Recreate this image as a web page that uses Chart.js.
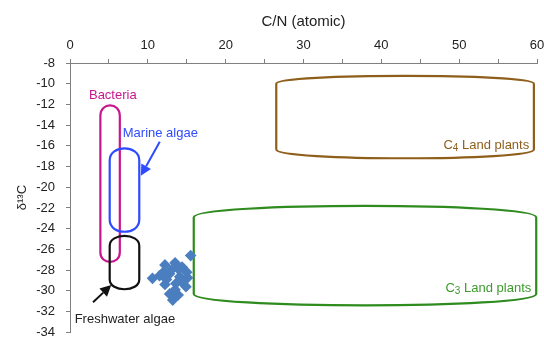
<!DOCTYPE html>
<html>
<head>
<meta charset="utf-8">
<script src="https://cdn.jsdelivr.net/npm/chart.js@4.4.1/dist/chart.umd.min.js"></script>
<style>
html,body{margin:0;padding:0;background:#fff;overflow:hidden}
#wrap{width:544px;height:338px;position:relative}
</style>
</head>
<body>
<div id="wrap"><canvas id="c" width="544" height="338"></canvas></div>
<script>
// ---- data ----
const regionNames = ['Bacteria', 'Marine algae', 'Freshwater algae', 'C4 Land plants', 'C3 Land plants'];
const regionCNMin = [3.9, 5.1, 5.1, 26.5, 15.9];
const regionCNMax = [6.4, 8.9, 8.9, 59.6, 59.9];
const regionD13CTopSide = [-13.1, -17.4, -25.65, -10.0, -22.9];
const regionD13CTopPeak = [-12.1, -16.25, -24.7, -9.25, -21.8];
const regionD13CBottomSide = [-26.3, -23.15, -28.9, -16.35, -30.3];
const regionD13CBottomPeak = [-27.2, -24.3, -29.85, -17.2, -31.4];

const sampleCN = [12.2, 13.5, 14.4, 11.5, 12.8, 14.1, 15.1, 12.2, 13.6, 14.9, 12.8, 13.9, 13.2, 10.6, 15.5, 13.0, 14.3, 12.4, 13.5, 15.0, 12.0, 13.9];
const sampleD13C = [-27.5, -27.3, -27.7, -28.55, -28.35, -28.65, -28.75, -29.4, -29.3, -29.6, -30.3, -30.4, -30.9, -28.8, -26.6, -28.0, -29.1, -28.9, -29.9, -28.2, -28.2, -27.9];

const xTickLabels = [0, 10, 20, 30, 40, 50, 60];
const yTickLabels = [-34, -32, -30, -28, -26, -24, -22, -20, -18, -16, -14, -12, -10, -8];

// ---- styles / annotation layout (kept separate from data) ----
const regionColors = ['#C8178E', '#2E4BFF', '#111111', '#8E5E1A', '#2E8B1E'];
const labelStyle = [
  {text: 'Bacteria', x: 5.5, y: -11.17, align: 'center', color: '#C8178E'},
  {text: 'Marine algae', x: 6.78, y: -14.81, align: 'left', color: '#2E4BFF'},
  {text: 'Freshwater algae', x: 0.6, y: -32.76, align: 'left', color: '#222222'},
];
const subLabels = [
  {main: 'C', sub: '4', rest: ' Land plants', x: 59.0, y: -15.97, color: '#8E5E1A'},
  {main: 'C', sub: '3', rest: ' Land plants', x: 59.26, y: -29.8, color: '#3C9A2C'},
];
const arrows = [
  {x0: 11.53, y0: -15.6, x1: 9.1, y1: -18.9, color: '#2E4BFF'},
  {x0: 2.96, y0: -31.1, x1: 5.3, y1: -29.45, color: '#111111'},
];
const FONT = '"Liberation Sans", Arial, sans-serif';

const regionPlugin = {
  id: 'regions',
  beforeDatasetsDraw(chart) {
    const {ctx, scales: {x, y}} = chart;
    ctx.save();
    ctx.lineJoin = 'round';
    for (let i = 0; i < regionNames.length; i++) {
      const L = x.getPixelForValue(regionCNMin[i]);
      const R = x.getPixelForValue(regionCNMax[i]);
      const yt = y.getPixelForValue(regionD13CTopSide[i]);
      const ytp = y.getPixelForValue(regionD13CTopPeak[i]);
      const yb = y.getPixelForValue(regionD13CBottomSide[i]);
      const ybp = y.getPixelForValue(regionD13CBottomPeak[i]);
      const kt = yt + (ytp - yt) / 0.75;
      const kb = yb + (ybp - yb) / 0.75;
      ctx.beginPath();
      ctx.moveTo(L, yb);
      ctx.lineTo(L, yt);
      ctx.bezierCurveTo(L, kt, R, kt, R, yt);
      ctx.lineTo(R, yb);
      ctx.bezierCurveTo(R, kb, L, kb, L, yb);
      ctx.closePath();
      ctx.strokeStyle = regionColors[i];
      ctx.lineWidth = 2.2;
      ctx.stroke();
    }
    // arrows
    for (const a of arrows) {
      const x0 = x.getPixelForValue(a.x0), y0 = y.getPixelForValue(a.y0);
      const x1 = x.getPixelForValue(a.x1), y1 = y.getPixelForValue(a.y1);
      const ang = Math.atan2(y1 - y0, x1 - x0);
      const hl = 11, hw = 5.5;
      const bx = x1 - Math.cos(ang) * hl, by = y1 - Math.sin(ang) * hl;
      ctx.strokeStyle = a.color; ctx.fillStyle = a.color; ctx.lineWidth = 2;
      ctx.beginPath(); ctx.moveTo(x0, y0); ctx.lineTo(bx, by); ctx.stroke();
      ctx.beginPath();
      ctx.moveTo(x1, y1);
      ctx.lineTo(bx + Math.sin(ang) * hw, by - Math.cos(ang) * hw);
      ctx.lineTo(bx - Math.sin(ang) * hw, by + Math.cos(ang) * hw);
      ctx.closePath(); ctx.fill();
    }
    // labels
    ctx.textBaseline = 'middle';
    ctx.font = '13px ' + FONT;
    for (const l of labelStyle) {
      ctx.fillStyle = l.color;
      ctx.textAlign = l.align;
      ctx.fillText(l.text, x.getPixelForValue(l.x), y.getPixelForValue(l.y));
    }
    for (const l of subLabels) {
      const px = x.getPixelForValue(l.x), py = y.getPixelForValue(l.y);
      ctx.font = '13px ' + FONT;
      const wMain = ctx.measureText(l.main).width;
      const wRest = ctx.measureText(l.rest).width;
      ctx.font = '10px ' + FONT;
      const wSub = ctx.measureText(l.sub).width;
      let sx = px - (wMain + wSub + wRest);
      ctx.fillStyle = l.color;
      ctx.textAlign = 'left';
      ctx.font = '13px ' + FONT;
      ctx.fillText(l.main, sx, py);
      ctx.font = '10px ' + FONT;
      ctx.fillText(l.sub, sx + wMain, py + 3);
      ctx.font = '13px ' + FONT;
      ctx.fillText(l.rest, sx + wMain + wSub, py);
    }
    ctx.restore();
  }
};

new Chart(document.getElementById('c'), {
  type: 'scatter',
  data: {
    datasets: [{
      label: 'Samples',
      data: sampleCN.map((v, i) => ({x: v, y: sampleD13C[i]})),
      pointStyle: 'rectRot',
      pointRadius: 5.8,
      pointHoverRadius: 5.8,
      backgroundColor: '#4A7EBF',
      borderColor: '#4A7EBF',
      borderWidth: 0
    }]
  },
  options: {
    responsive: false,
    animation: false,
    devicePixelRatio: 1,
    layout: {padding: 0},
    plugins: {legend: {display: false}, tooltip: {enabled: false}},
    scales: {
      x: {
        type: 'linear',
        position: 'top',
        min: 0, max: 60,
        grid: {display: true, drawOnChartArea: false, drawTicks: true, tickLength: 4, tickColor: '#808080'},
        border: {display: true, color: '#808080', width: 1},
        ticks: {
          stepSize: 5, autoSkip: false, maxRotation: 0, padding: 6,
          color: '#222', font: {size: 13, family: FONT},
          callback: (v) => xTickLabels.includes(v) ? String(v) : ''
        },
        title: {display: true, text: 'C/N (atomic)', color: '#222', font: {size: 15, family: FONT}, padding: {top: 13, bottom: 6}},
        afterFit: (s) => { s.height = 63; s.paddingLeft = 0; s.paddingRight = 7; }
      },
      y: {
        type: 'linear',
        min: -34, max: -8,
        grid: {display: true, drawOnChartArea: false, drawTicks: true, tickLength: 4, tickColor: '#808080'},
        border: {display: true, color: '#808080', width: 1},
        ticks: {
          stepSize: 2, autoSkip: false, padding: 11,
          color: '#222', font: {size: 13, family: FONT},
          callback: (v) => yTickLabels.includes(v) ? String(v) : ''
        },
        title: {display: true, text: 'δ¹³C', color: '#222', font: {size: 13, family: FONT}, padding: {top: 15, bottom: 6}},
        afterFit: (s) => { s.width = 70; s.paddingTop = 0; s.paddingBottom = 4; }
      }
    }
  },
  plugins: [regionPlugin]
});
</script>
</body>
</html>
